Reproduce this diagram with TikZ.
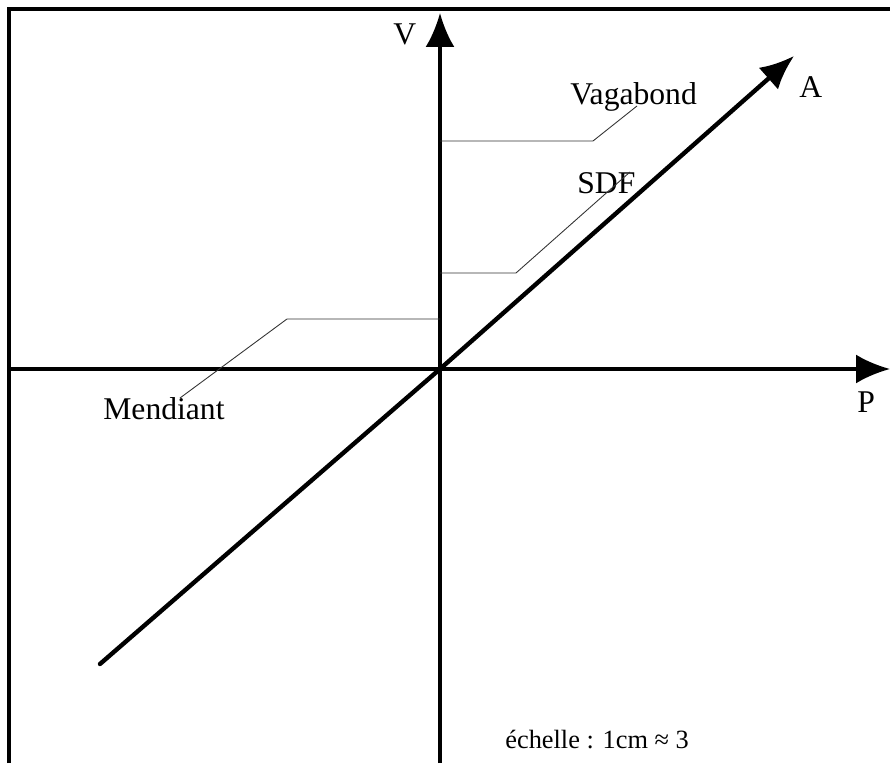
\documentclass[tikz,border=0pt]{standalone}
\usepackage{fontspec}
\setmainfont{Liberation Serif}
\usetikzlibrary{arrows.meta}

\begin{document}
\begin{tikzpicture}[
  frame/.style={line width=1.8pt},
  axis/.style={line width=1.9pt, -{Latex[length=0.68cm, width=0.58cm]}},
  diag/.style={line width=2.5pt, line cap=round, -{Latex[length=0.68cm, width=0.58cm]}},
  leader/.style={line width=0.5pt, black!80},
  lbl/.style={font=\fontsize{18}{20}\selectfont, anchor=base west, inner sep=0pt},
  scalelbl/.style={font=\fontsize{15}{17}\selectfont, anchor=base west, inner sep=0pt},
]
\useasboundingbox (0,0) rectangle (17.8,15.26);

% Frame
\draw[frame] (0.18,0) |- (17.8,15.08);

% Axis ends
\coordinate (O)    at (8.80,7.88);
\coordinate (vtop) at (8.80,15.00);
\coordinate (vbot) at (8.80,0);
\coordinate (pl)   at (0.18,7.88);
\coordinate (pr)   at (17.80,7.88);
\coordinate (abot) at (2.00,1.98);
\coordinate (atop) at (15.88,14.14);

% Axes
\draw[axis] (vbot) -- (vtop);
\draw[axis] (pl) -- (pr);
\draw[diag] (abot) -- (O) -- (atop);

% Axis labels
\node[lbl] (V) at (7.86,14.36) {V};
\node[lbl] (A) at (15.98,13.30) {A};
\node[lbl] (P) at (17.14,7.00) {P};

% Labels
\node[lbl] (vag)  at (11.40,13.16) {Vagabond};
\node[lbl] (sdf)  at (11.54,11.38) {SDF};
\node[lbl] (mend) at (2.06,6.86) {Mendiant};

% Leaders
\coordinate (vagax)  at (8.80,12.44);
\coordinate (vagk)   at (11.86,12.44);
\coordinate (vagend) at (12.74,13.14);
\coordinate (sdfax)  at (8.80,9.80);
\coordinate (sdfk)   at (10.32,9.80);
\coordinate (sdfend) at (12.60,11.82);
\coordinate (menax)  at (8.80,8.88);
\coordinate (menk)   at (5.74,8.88);
\coordinate (menend) at (3.60,7.30);
\draw[leader] (vagax) -- (vagk) -- (vagend);
\draw[leader] (sdfax) -- (sdfk) -- (sdfend);
\draw[leader] (menax) -- (menk) -- (menend);

% Scale
\node[scalelbl] (echelle) at (10.10,0.30) {échelle : 1cm ≈ 3};

\end{tikzpicture}
\end{document}
